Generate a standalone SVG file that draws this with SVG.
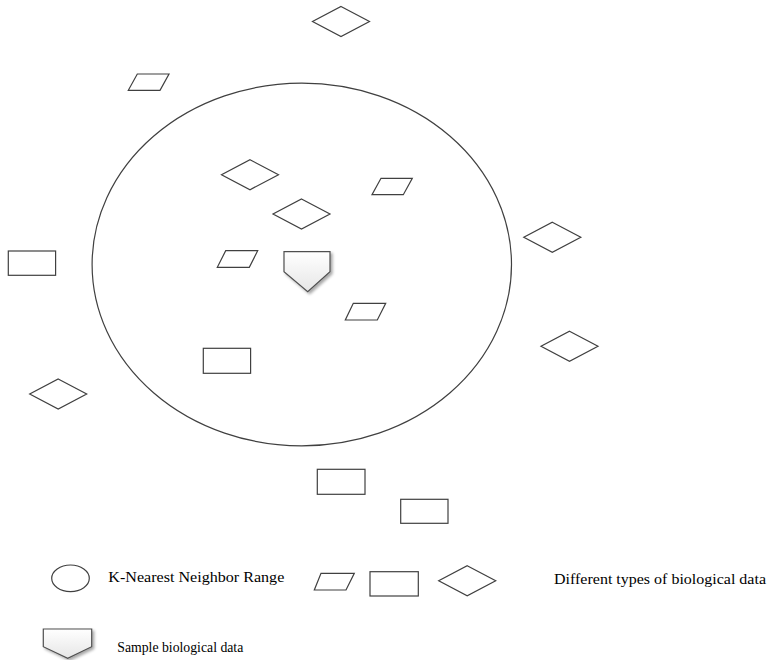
<svg xmlns="http://www.w3.org/2000/svg" width="769" height="660" viewBox="0 0 769 660">
<defs>
<style>
.s{fill:#ffffff;stroke:#404040;stroke-width:1.2}
.t{font-family:"Liberation Serif","Times New Roman",serif;font-size:14.5px;fill:#000}
</style>
<linearGradient id="pg" x1="0" y1="0" x2="0" y2="1">
<stop offset="0" stop-color="#ffffff"/>
<stop offset="1" stop-color="#e6e6e6"/>
</linearGradient>
<filter id="sh" x="-20%" y="-20%" width="150%" height="150%">
<feGaussianBlur in="SourceAlpha" stdDeviation="1.5"/>
<feOffset dx="2" dy="2" result="b"/>
<feComponentTransfer><feFuncA type="linear" slope="0.35"/></feComponentTransfer>
<feMerge><feMergeNode/><feMergeNode in="SourceGraphic"/></feMerge>
</filter>
<polygon id="dia" points="0,-15 28.5,0 0,15 -28.5,0"/>
</defs>
<rect width="769" height="660" fill="#ffffff"/>
<g id="connectors"></g>
<g id="range"><ellipse cx="301.8" cy="264.5" rx="209.7" ry="181.3" fill="none" stroke="#404040" stroke-width="1.2"/></g>
<g id="diamonds">
<g id="d1"><use href="#dia" class="s" x="341" y="21.5"/></g>
<g id="d2"><use href="#dia" class="s" x="250" y="174.7"/></g>
<g id="d3"><use href="#dia" class="s" x="301.5" y="214"/></g>
<g id="d4"><use href="#dia" class="s" x="552.3" y="237.3"/></g>
<g id="d5"><use href="#dia" class="s" x="569.5" y="346.3"/></g>
<g id="d6"><use href="#dia" class="s" x="58.2" y="394"/></g>
</g>
<g id="parallelograms">
<g id="p1"><polygon class="s" points="137.3,74 169,74 160,90.3 128.3,90.3"/></g>
<g id="p2"><polygon class="s" points="381,178.3 412.3,178.3 403.3,194.7 372,194.7"/></g>
<g id="p3"><polygon class="s" points="225.7,250.7 257.7,250.7 249.3,267.3 217.3,267.3"/></g>
<g id="p4"><polygon class="s" points="353.3,303.3 385.7,303.3 377.3,320 345.3,320"/></g>
</g>
<g id="rects">
<g id="r1"><rect class="s" x="8.3" y="251" width="47.3" height="24.3"/></g>
<g id="r2"><rect class="s" x="203.3" y="348.3" width="47.3" height="25"/></g>
<g id="r3"><rect class="s" x="317.3" y="469.3" width="47.7" height="25"/></g>
<g id="r4"><rect class="s" x="400.7" y="499.3" width="47.3" height="24"/></g>
</g>
<g id="sample"><polygon points="284,251.7 330,251.7 330,271.7 307.7,291.7 284,271.7" fill="url(#pg)" stroke="#505050" stroke-width="1.2" filter="url(#sh)"/></g>
<g id="legend-range">
<ellipse class="s" cx="70.5" cy="578.3" rx="18.8" ry="13.3"/>
<text class="t" x="108.3" y="581.5" textLength="176" lengthAdjust="spacingAndGlyphs">K-Nearest Neighbor Range</text>
</g>
<g id="legend-sample">
<polygon points="43.3,629 91.7,629 91.7,646.7 67.7,658.3 43.3,646.7" fill="url(#pg)" stroke="#505050" stroke-width="1.2" filter="url(#sh)"/>
<text class="t" x="117.3" y="652" textLength="126" lengthAdjust="spacingAndGlyphs">Sample biological data</text>
</g>
<g id="legend-types">
<polygon class="s" points="321,573.3 354.3,573.3 346,590 314.3,590"/>
<rect class="s" x="370" y="571.7" width="48.3" height="24.3"/>
<use href="#dia" class="s" x="467.2" y="580.8"/>
<text class="t" x="554" y="584" textLength="212" lengthAdjust="spacingAndGlyphs">Different types of biological data</text>
</g>
</svg>
